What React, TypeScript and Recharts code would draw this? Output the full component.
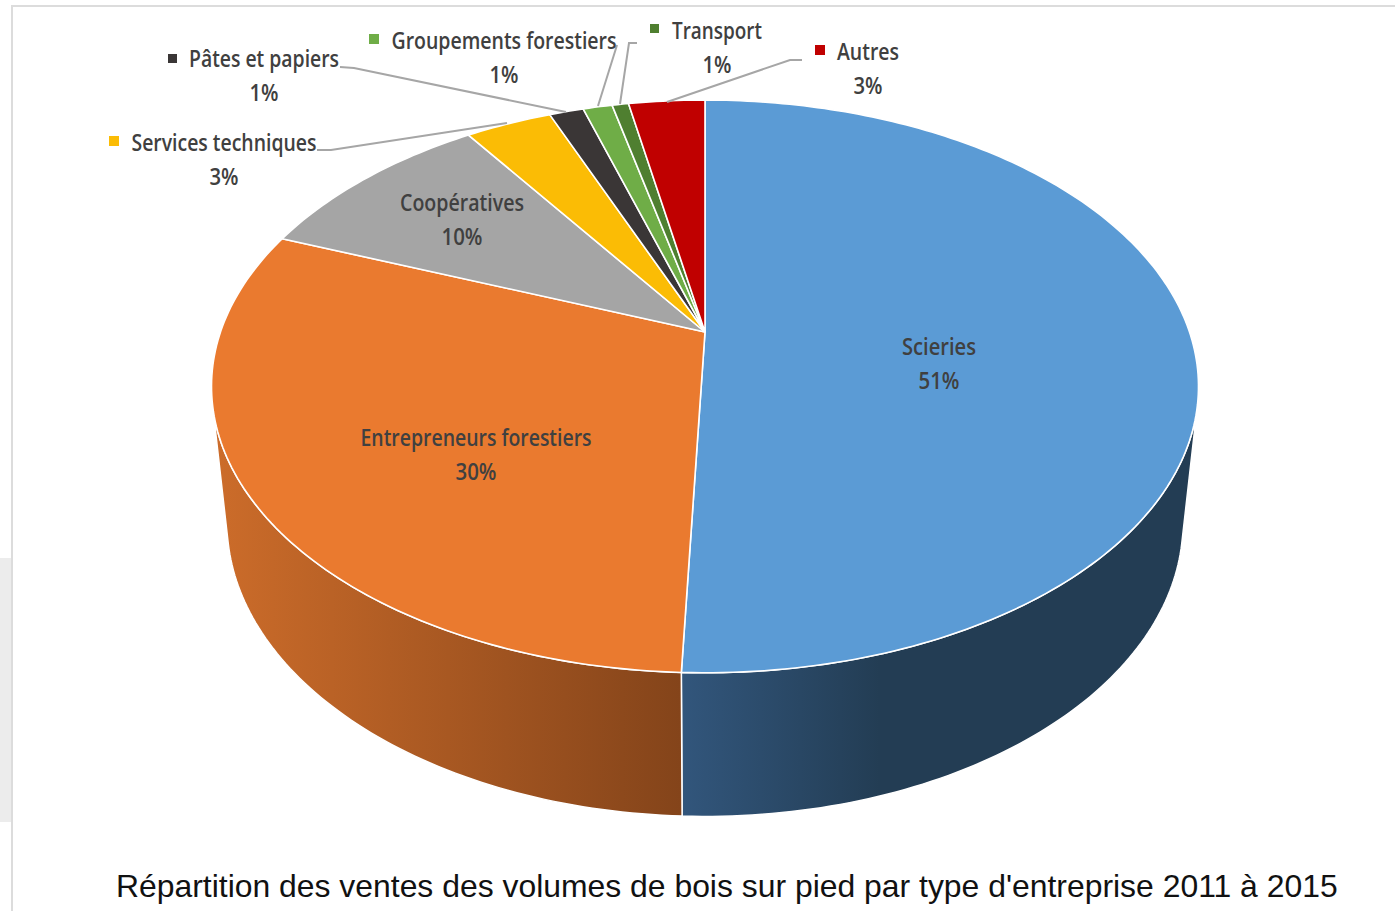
import { PieChart, Pie, Cell } from 'recharts'

const categories = [
  'Scieries',
  'Entrepreneurs forestiers',
  'Coopératives',
  'Services techniques',
  'Pâtes et papiers',
  'Groupements forestiers',
  'Transport',
  'Autres',
]
const shares = [50.63, 30.25, 9.57, 3.4, 1.35, 1.15, 0.65, 3.0]
const sliceColors = ['#5b9bd5', '#ea7a2f', '#a5a5a5', '#fbbc05', '#3a3636', '#6fad47', '#4f7f30', '#c00000']
const wallFills = ['url(#wallBlue)', 'url(#wallOrange)']

const chartData = categories.map((name, i) => ({ name, value: shares[i] }))

const TITLE = "Répartition des ventes des volumes de bois sur pied par type d'entreprise 2011 à 2015"
const LABEL_FONT = '"Open Sans", sans-serif'
const INK = '#404040'
const LEADER = '#a6a6a6'

// label placement, same order as categories: centre x, name baseline, name width, % width, key square
const labelSpots = [
  { x: 939, y: 355, w: 74, pw: 41 },
  { x: 476, y: 446, w: 231, pw: 41 },
  { x: 462, y: 211, w: 124, pw: 41 },
  { x: 224, y: 151, w: 185, pw: 29, key: [109, 136, 10] },
  { x: 264, y: 67, w: 150, pw: 29, key: [168, 54, 9] },
  { x: 504, y: 49, w: 225, pw: 29, key: [369, 34, 10] },
  { x: 717, y: 39, w: 90, pw: 29, key: [650, 24, 9] },
  { x: 868, y: 60, w: 62, pw: 29, key: [815, 45, 10] },
]
const leaders: Record<number, string> = {
  3: '317,150 331,150 507,123',
  4: '340,67 354,68 566,112',
  5: '617,45 598,106',
  6: '637,43 629,43 620,104',
  7: '802,60 790,60 667,102',
}

// the pie lies tilted: a circle seen in perspective, so the apex sits above the ellipse centre
const TILT = -0.19
const SQUASH = 0.5697
const WALL_DROP = 134.5
const WALL_SHRINK = 0.9686
const WALL_SQUASH = 0.585
// where the wall silhouette leaves the top rim and meets the floor rim
const RIM_RIGHT = -14
const RIM_LEFT = -166
const FLOOR_RIGHT = -15
const FLOOR_LEFT = -165

function rim(cx: number, cy: number, r: number, deg: number) {
  const u = Math.cos((deg * Math.PI) / 180)
  const v = -Math.sin((deg * Math.PI) / 180)
  const w = 1 + TILT * v
  return { x: cx + (r * u) / w, y: cy + (r * SQUASH * v) / w }
}

function floorRim(cx: number, cy: number, r: number, deg: number) {
  const u = Math.cos((deg * Math.PI) / 180)
  const v = -Math.sin((deg * Math.PI) / 180)
  const w = 1 + TILT * v
  return { x: cx + (r * WALL_SHRINK * u) / w, y: cy + WALL_DROP + (r * WALL_SQUASH * v) / w }
}

function sweep(from: number, to: number) {
  const out: number[] = []
  const n = Math.max(2, Math.ceil(Math.abs(to - from)))
  for (let i = 0; i <= n; i++) out.push(from + ((to - from) * i) / n)
  return out
}

function TiltedSlice(props: any) {
  const { cx, cy, outerRadius, startAngle, endAngle, fill, index } = props
  const top = sweep(startAngle, endAngle).map((a) => rim(cx, cy, outerRadius, a))
  const d = `M${cx},${cy} ` + top.map((p) => `L${p.x},${p.y}`).join(' ') + ' Z'

  // only the front of the rim shows a wall
  let wall = null
  if (startAngle > FLOOR_LEFT && endAngle < FLOOR_RIGHT) {
    const upper = sweep(Math.min(startAngle, RIM_RIGHT), Math.max(endAngle, RIM_LEFT)).map((a) =>
      rim(cx, cy, outerRadius, a),
    )
    const lower = sweep(Math.min(startAngle, FLOOR_RIGHT), Math.max(endAngle, FLOOR_LEFT))
      .map((a) => floorRim(cx, cy, outerRadius, a))
      .reverse()
    const pts = [...upper, ...lower].map((p) => `${p.x},${p.y}`).join(' ')
    wall = <polygon points={pts} fill={wallFills[index]} stroke="#fff" strokeWidth={1.5} strokeLinejoin="round" />
  }
  return (
    <g>
      {wall}
      <path d={d} fill={fill} stroke="#fff" strokeWidth={1.6} strokeLinejoin="round" />
    </g>
  )
}

function SliceLabel(props: any) {
  const { index, percent } = props
  const s = labelSpots[index]
  const style = { fontFamily: LABEL_FONT, fontSize: 24, fill: INK, fontWeight: 600 }
  return (
    <g>
      {s.key && <rect x={s.key[0]} y={s.key[1]} width={s.key[2]} height={s.key[2]} fill={sliceColors[index]} />}
      <text x={s.x} y={s.y} textAnchor="middle" textLength={s.w} lengthAdjust="spacingAndGlyphs" style={style}>
        {categories[index]}
      </text>
      <text x={s.x} y={s.y + 34} textAnchor="middle" textLength={s.pw} lengthAdjust="spacingAndGlyphs" style={style}>
        {`${Math.round(percent * 100)}%`}
      </text>
    </g>
  )
}

function LeaderLine(props: any) {
  const pts = leaders[props.index]
  if (!pts) return <g />
  return <polyline points={pts} fill="none" stroke={LEADER} strokeWidth={2} />
}

export default function App() {
  return (
    <div style={{ position: 'absolute', left: 0, top: 0, width: 1395, height: 911, background: '#fff', overflow: 'hidden' }}>
      <div style={{ position: 'absolute', left: 0, top: 558, width: 11, height: 264, background: '#ececec' }} />
      <div style={{ position: 'absolute', left: 11, top: 5, width: 2, height: 906, background: '#dcdcdc' }} />
      <div style={{ position: 'absolute', left: 11, top: 5, width: 1384, height: 2, background: '#dcdcdc' }} />
      <svg width={0} height={0} style={{ position: 'absolute' }}>
        <defs>
          <linearGradient id="wallBlue" gradientUnits="userSpaceOnUse" x1={681} y1={0} x2={880} y2={0}>
            <stop offset="0" stopColor="#32567c" />
            <stop offset="1" stopColor="#233d54" />
          </linearGradient>
          <linearGradient id="wallOrange" gradientUnits="userSpaceOnUse" x1={215} y1={0} x2={681} y2={0}>
            <stop offset="0" stopColor="#cc6c2a" />
            <stop offset="1" stopColor="#84441a" />
          </linearGradient>
        </defs>
      </svg>
      <div style={{ position: 'absolute', left: 0, top: 0 }}>
        <PieChart width={1395} height={911} margin={{ top: 0, right: 0, bottom: 0, left: 0 }}>
          <Pie
            data={chartData}
            dataKey="value"
            nameKey="name"
            cx={705}
            cy={332}
            innerRadius={0}
            outerRadius={484.5}
            startAngle={90}
            endAngle={-270}
            stroke="#fff"
            shape={TiltedSlice}
            label={SliceLabel}
            labelLine={LeaderLine}
            isAnimationActive={false}
          >
            {chartData.map((d, i) => (
              <Cell key={d.name} fill={sliceColors[i]} />
            ))}
          </Pie>
        </PieChart>
      </div>
      <div
        style={{
          position: 'absolute',
          left: 116,
          top: 867,
          whiteSpace: 'nowrap',
          fontFamily: '"Liberation Sans", Arial, sans-serif',
          fontSize: 31.9,
          lineHeight: '38px',
          color: '#111',
        }}
      >
        {TITLE}
      </div>
    </div>
  )
}
